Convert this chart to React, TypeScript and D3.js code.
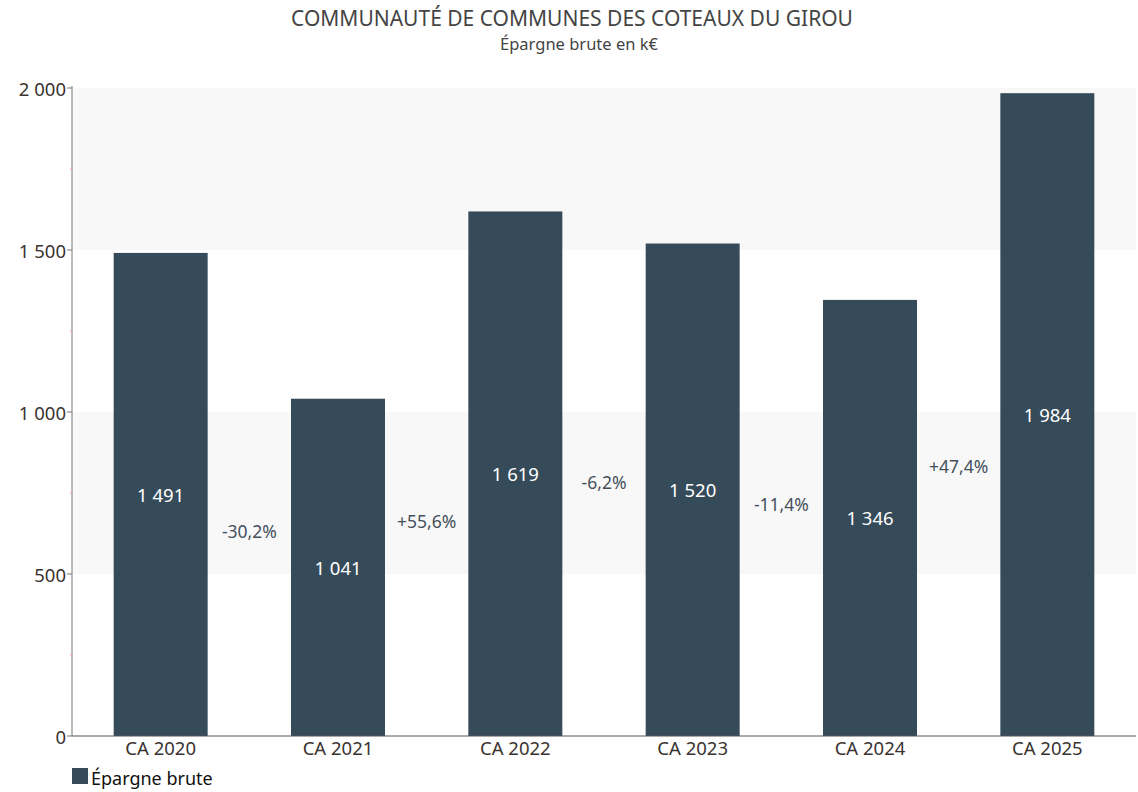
import React from "react";
import * as d3 from "d3";

const categories = ["CA 2020", "CA 2021", "CA 2022", "CA 2023", "CA 2024", "CA 2025"];
const values = [1491, 1041, 1619, 1520, 1346, 1984];
const changes = ["-30,2%", "+55,6%", "-6,2%", "-11,4%", "+47,4%"];
const yTicks = [0, 500, 1000, 1500, 2000];
const minorTicks = [250, 750, 1250, 1750];
const title = "COMMUNAUTÉ DE COMMUNES DES COTEAUX DU GIROU";
const subtitle = "Épargne brute en k€";
const seriesName = "Épargne brute";

const W = 1138, H = 792;
const left = 72, right = 1136, top = 88, bottom = 736;
const FONT = "'Noto Sans', 'Open Sans', sans-serif";
const BAR = "#364b5a";

const fmt = (v: number) => {
  const s = String(v);
  return s.length > 3 ? s.slice(0, s.length - 3) + "\u00a0" + s.slice(-3) : s;
};

export default function App() {
  const x = d3.scaleBand<string>().domain(categories).range([left, right]).paddingInner(0.47).paddingOuter(0.235);
  const y = d3.scaleLinear().domain([0, 2000]).range([bottom, top]);
  const bw = x.bandwidth();
  return (
    <svg width={W} height={H} style={{ position: "absolute", left: 0, top: 0, fontFamily: FONT }}>
      <rect x={0} y={0} width={W} height={H} fill="#fff" />
      <text x={572} y={26} textAnchor="middle" fontSize={21} fill="#444">{title}</text>
      <text x={579} y={50} textAnchor="middle" fontSize={16.5} fill="#444">{subtitle}</text>
      {[[1500, 2000], [500, 1000]].map(([a, b], i) => (
        <rect key={i} x={left} y={y(b)} width={right - left} height={y(a) - y(b)} fill="#f8f8f8" />
      ))}
      {categories.map((c, i) => (
        <g key={c}>
          <rect x={x(c)!} y={y(values[i])} width={bw} height={y(0) - y(values[i])} fill={BAR} />
          <text x={x(c)! + bw / 2} y={y(values[i] / 2)} textAnchor="middle" dominantBaseline="central" fontSize={18.5} fill="#fff">{fmt(values[i])}</text>
        </g>
      ))}
      {changes.map((p, i) => {
        const cx = (x(categories[i])! + bw + x(categories[i + 1])!) / 2;
        const v = (values[i] / 2 + values[i + 1] / 2) / 2;
        return (
          <text key={p} x={cx} y={y(v)} textAnchor="middle" dominantBaseline="central" fontSize={17.5} fill="#44505c">{p}</text>
        );
      })}
      <line x1={left} x2={left} y1={top - 2} y2={bottom} stroke="#777" />
      <line x1={left} x2={right} y1={bottom} y2={bottom} stroke="#555" />
      {yTicks.map((t) => (
        <g key={t}>
          <line x1={left - 5} x2={left} y1={y(t)} y2={y(t)} stroke="#777" />
          <text x={left - 6} y={y(t)} textAnchor="end" dominantBaseline="central" fontSize={18.5} fill="#3a3330">{fmt(t)}</text>
        </g>
      ))}
      {minorTicks.map((t) => (
        <line key={t} x1={left - 2} x2={left} y1={y(t)} y2={y(t)} stroke="#f4a0a0" />
      ))}
      {categories.map((c) => (
        <text key={c} x={x(c)! + bw / 2} y={bottom + 19} textAnchor="middle" fontSize={18.5} fill="#3a3330">{c}</text>
      ))}
      <rect x={72} y={768} width={16} height={16} fill={BAR} />
      <text x={91} y={785} fontSize={18} fill="#111">{seriesName}</text>
    </svg>
  );
}
